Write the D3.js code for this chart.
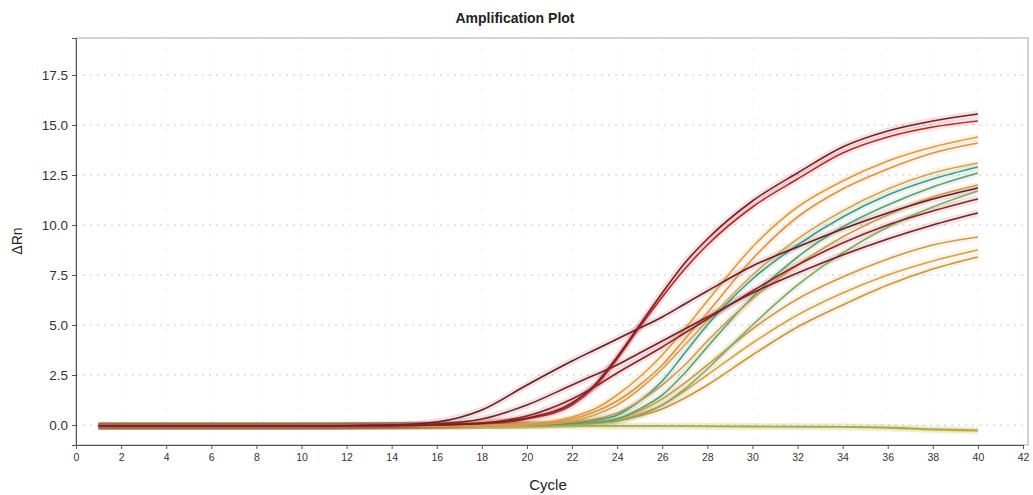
<!DOCTYPE html>
<html>
<head>
<meta charset="utf-8">
<script src="https://cdn.jsdelivr.net/npm/d3@7"></script>
<style>
  body { margin: 0; background: #fff; }
  text { font-family: "Liberation Sans", Arial, sans-serif; }
</style>
</head>
<body>
<div id="grafico"></div>
<script>
// Cycles where each curve is sampled
const cycles = [1, 10, 14, 16, 18, 20, 22, 23, 24, 25, 26, 27, 28, 30, 32, 34, 36, 38, 40];

// Delta Rn per well
const redA   = [-0.05, -0.05, 0.0, 0.15, 0.75, 2.0, 3.2, 3.75, 4.3, 4.85, 5.4, 6.05, 6.7, 7.95, 8.9, 9.8, 10.6, 11.3, 11.85];
const redB   = [-0.05, -0.05, -0.02, 0.05, 0.3, 1.0, 2.0, 2.5, 3.0, 3.6, 4.2, 4.8, 5.4, 6.6, 7.6, 8.5, 9.3, 10.0, 10.6];
const redD   = [-0.05, -0.05, -0.03, 0.0, 0.1, 0.45, 1.3, 1.9, 2.6, 3.25, 3.9, 4.6, 5.3, 6.7, 8.0, 9.1, 10.0, 10.7, 11.3];
const steep1 = [-0.05, -0.05, -0.03, 0.0, 0.08, 0.35, 1.1, 2.0, 3.4, 5.0, 6.6, 8.1, 9.3, 11.2, 12.6, 13.9, 14.7, 15.2, 15.55];
const steep2 = [-0.05, -0.05, -0.03, 0.0, 0.06, 0.3, 1.0, 1.9, 3.3, 4.9, 6.4, 7.8, 9.0, 10.9, 12.3, 13.6, 14.4, 14.9, 15.2];
const orange1 = [-0.05, -0.05, -0.05, -0.04, -0.02, 0.05, 0.4, 0.8, 1.5, 2.4, 3.5, 4.8, 6.2, 8.9, 10.9, 12.2, 13.2, 13.9, 14.4];
const orange2 = [-0.05, -0.05, -0.05, -0.04, -0.02, 0.03, 0.3, 0.65, 1.2, 2.0, 3.0, 4.3, 5.6, 8.3, 10.4, 11.8, 12.8, 13.6, 14.1];
const orange3 = [-0.05, -0.05, -0.05, -0.04, -0.02, 0.02, 0.2, 0.5, 1.0, 1.8, 2.8, 4.0, 5.2, 7.5, 9.3, 10.7, 11.8, 12.6, 13.1];
const orange4 = [-0.05, -0.05, -0.05, -0.04, -0.02, 0.0, 0.15, 0.3, 0.6, 1.2, 2.0, 3.0, 4.2, 6.3, 8.0, 9.4, 10.5, 11.4, 12.0];
const green1 = [-0.05, -0.05, -0.05, -0.04, -0.02, 0.0, 0.1, 0.25, 0.5, 1.2, 2.2, 3.6, 5.0, 7.3, 9.0, 10.4, 11.5, 12.3, 12.9];
const green2 = [-0.05, -0.05, -0.05, -0.04, -0.02, 0.0, 0.08, 0.15, 0.3, 0.8, 1.5, 2.6, 3.9, 6.4, 8.4, 9.9, 11.0, 11.9, 12.6];
const green3 = [-0.05, -0.05, -0.05, -0.04, -0.02, 0.0, 0.05, 0.1, 0.2, 0.5, 1.0, 1.8, 2.8, 5.0, 7.0, 8.6, 9.9, 10.9, 11.7];
const yellow1 = [-0.05, -0.05, -0.05, -0.04, -0.02, 0.0, 0.06, 0.12, 0.3, 0.7, 1.3, 2.1, 3.0, 4.8, 6.3, 7.4, 8.3, 9.0, 9.4];
const yellow2 = [-0.05, -0.05, -0.05, -0.04, -0.02, 0.0, 0.05, 0.1, 0.25, 0.55, 1.0, 1.7, 2.5, 4.1, 5.5, 6.6, 7.5, 8.2, 8.75];
const yellow3 = [-0.05, -0.05, -0.05, -0.04, -0.02, 0.0, 0.04, 0.08, 0.2, 0.45, 0.8, 1.35, 2.0, 3.5, 4.9, 6.0, 7.0, 7.8, 8.4];
const ntc1 = [-0.05, -0.05, -0.05, -0.05, -0.05, -0.05, -0.05, -0.05, -0.05, -0.05, -0.06, -0.06, -0.07, -0.08, -0.09, -0.1, -0.15, -0.25, -0.3];
const ntc2 = [-0.05, -0.05, -0.05, -0.05, -0.05, -0.05, -0.05, -0.05, -0.05, -0.05, -0.05, -0.05, -0.06, -0.07, -0.08, -0.09, -0.12, -0.2, -0.25];

// Colours per well
const wells = [
  { values: ntc1, color: "#d9b437" },
  { values: ntc2, color: "#9fb04a" },
  { values: yellow3, color: "#c9963c" },
  { values: yellow2, color: "#d3a446" },
  { values: yellow1, color: "#cf9a48" },
  { values: green3, color: "#86a862" },
  { values: green2, color: "#5f9f6e" },
  { values: green1, color: "#3f9a86" },
  { values: orange4, color: "#cf9a4e" },
  { values: orange3, color: "#d6a24e" },
  { values: orange2, color: "#dc9442" },
  { values: orange1, color: "#e09a3c" },
  { values: redB, color: "#7b1f24" },
  { values: redD, color: "#8e2226" },
  { values: redA, color: "#6e1a1e" },
  { values: steep2, color: "#b8282a" },
  { values: steep1, color: "#7e1c20" }
];

const xTicks = d3.range(0, 43, 2);
const yTicks = [0, 2.5, 5, 7.5, 10, 12.5, 15, 17.5];

// Chart size
const margin = { top: 38, right: 8, bottom: 50, left: 76 };
const width  = 1033;
const height = 495;

const svg = d3.select("#grafico")
              .append("svg")
              .attr("width", width)
              .attr("height", height);

const x = d3.scaleLinear()
            .domain([0, 42])
            .range([margin.left, 1023]);

const y = d3.scaleLinear()
            .domain([-1, 19.35])
            .range([height - margin.bottom, margin.top]);

// Plot frame (top and right)
svg.append("rect")
   .attr("x", margin.left)
   .attr("y", margin.top)
   .attr("width", 1028 - margin.left)
   .attr("height", y(-1) - margin.top)
   .attr("fill", "none")
   .attr("stroke", "#a8a8a8")
   .attr("stroke-width", 1);

// Dotted grid
svg.append("g")
   .selectAll("line")
   .data(yTicks)
   .enter()
   .append("line")
   .attr("x1", margin.left)
   .attr("x2", 1026)
   .attr("y1", d => y(d))
   .attr("y2", d => y(d))
   .attr("stroke", "#c8c8c8")
   .attr("stroke-dasharray", "2,5");

svg.append("g")
   .selectAll("line")
   .data(xTicks.slice(1))
   .enter()
   .append("line")
   .attr("x1", d => x(d))
   .attr("x2", d => x(d))
   .attr("y1", margin.top)
   .attr("y2", y(-1))
   .attr("stroke", "#e2e2e2")
   .attr("stroke-dasharray", "1,9");

// Axes
const xAxisCall = d3.axisBottom(x)
                    .tickValues(xTicks)
                    .tickSize(4)
                    .tickFormat(d3.format("d"));

const gx = svg.append("g")
              .attr("transform", `translate(0, ${y(-1)})`)
              .call(xAxisCall);
gx.selectAll("text").attr("font-size", "10.5px").attr("fill", "#333").attr("dy", "0.9em");
gx.selectAll("line, path").attr("stroke", "#555");

const yAxisCall = d3.axisLeft(y)
                    .tickValues(yTicks)
                    .tickSize(4)
                    .tickFormat(d3.format(".1f"));

const gy = svg.append("g")
              .attr("transform", `translate(${margin.left}, 0)`)
              .call(yAxisCall);
gy.selectAll("text").attr("font-size", "13.5px").attr("fill", "#333").attr("x", -8);
gy.selectAll("line, path").attr("stroke", "#555");

// Curves
const line = d3.line()
               .x((d, i) => x(cycles[i]))
               .y(d => y(d))
               .curve(d3.curveMonotoneX);

// soft halo under each curve
svg.append("g")
   .selectAll("path")
   .data(wells)
   .enter()
   .append("path")
   .attr("d", d => line(d.values))
   .attr("fill", "none")
   .attr("stroke", d => d.color)
   .attr("stroke-opacity", 0.12)
   .attr("stroke-width", 7);

svg.append("g")
   .selectAll("path")
   .data(wells)
   .enter()
   .append("path")
   .attr("d", d => line(d.values))
   .attr("fill", "none")
   .attr("stroke", d => d.color)
   .attr("stroke-width", 1.6);

// Titles
svg.append("text")
   .attr("x", 515)
   .attr("y", 23)
   .attr("font-size", "14px")
   .attr("font-weight", "bold")
   .attr("fill", "#222")
   .attr("text-anchor", "middle")
   .text("Amplification Plot");

svg.append("text")
   .attr("x", 548)
   .attr("y", 490)
   .attr("font-size", "15px")
   .attr("fill", "#222")
   .attr("text-anchor", "middle")
   .text("Cycle");

svg.append("text")
   .attr("x", -241)
   .attr("y", 22)
   .attr("font-size", "14px")
   .attr("fill", "#222")
   .attr("text-anchor", "middle")
   .attr("transform", "rotate(-90)")
   .text("ΔRn");
</script>
</body>
</html>
